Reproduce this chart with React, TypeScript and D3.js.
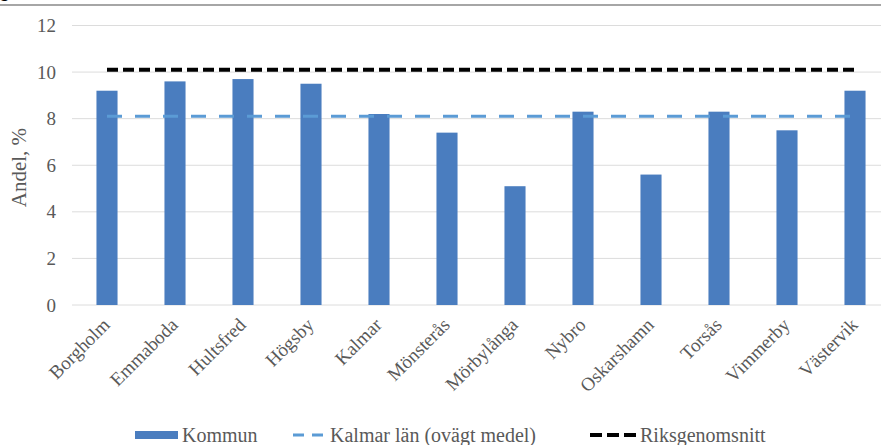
import React from "react";
import * as d3 from "d3";

const categories = ["Borgholm", "Emmaboda", "Hultsfred", "Högsby", "Kalmar", "Mönsterås", "Mörbylånga", "Nybro", "Oskarshamn", "Torsås", "Vimmerby", "Västervik"];
const kommun = [9.2, 9.6, 9.7, 9.5, 8.2, 7.4, 5.1, 8.3, 5.6, 8.3, 7.5, 9.2];
const kalmarLan = 8.1;
const riks = 10.1;
const yTicks = [0, 2, 4, 6, 8, 10, 12];
const legendLabels = ["Kommun", "Kalmar län (ovägt medel)", "Riksgenomsnitt"];
const yLabel = "Andel, %";

const W = 881, H = 445;
const FONT = "'Liberation Serif', 'Times New Roman', serif";
const TXT = "#595959";
const BAR = "#4a7dbf";
const BLUE = "#5b9bd5";

export default function App() {
  const x = d3.scaleBand<string>().domain(categories).range([73, 889]).paddingInner(0.69).paddingOuter(0.345);
  const y = d3.scaleLinear().domain([0, 12]).range([305, 25.5]);
  const cx = (c: string) => (x(c) as number) + x.bandwidth() / 2;
  const first = cx(categories[0]);
  const last = cx(categories[categories.length - 1]);
  const lineGen = d3.line<[number, number]>().x(d => d[0]).y(d => d[1]);

  return (
    <svg width={W} height={H} style={{ position: "absolute", left: 0, top: 0, background: "#fff" }} fontFamily={FONT}>
      {/* cut-off title fragments */}
      <text x={-1} y={-3} fontFamily="'Liberation Sans', Arial, sans-serif" fontWeight="bold" fontSize={18} fill="#000">g</text>
      <text x={749} y={-3} fontFamily="'Liberation Sans', Arial, sans-serif" fontWeight="bold" fontSize={18} fill="#000">,</text>
      <line x1={0} x2={W} y1={5} y2={5} stroke="#a6a6a6" strokeWidth={2} />

      {/* gridlines */}
      {yTicks.map(t => (
        <line key={t} x1={72} x2={W} y1={y(t)} y2={y(t)} stroke="#dcdcdc" strokeWidth={1} />
      ))}
      {yTicks.map(t => (
        <text key={"l" + t} x={56} y={y(t)} dy="0.35em" textAnchor="end" fontSize={19} fill={TXT}>{t}</text>
      ))}
      <text transform={`translate(26,${y(5.9)}) rotate(-90)`} textAnchor="middle" fontSize={21} fill={TXT}>{yLabel}</text>

      {/* bars */}
      {categories.map((c, i) => (
        <rect key={c} x={x(c)} y={y(kommun[i])} width={x.bandwidth()} height={y(0) - y(kommun[i])} fill={BAR} />
      ))}

      {/* lines */}
      <path d={lineGen([[first, y(kalmarLan)], [last, y(kalmarLan)]]) as string} stroke={BLUE} strokeWidth={3} strokeDasharray="15,13" fill="none" />
      <path d={lineGen([[first, y(riks)], [last, y(riks)]]) as string} stroke="#000" strokeWidth={4} strokeDasharray="11,5" fill="none" />

      {/* x labels */}
      {categories.map(c => (
        <text key={"x" + c} transform={`translate(${cx(c) + 4},${326}) rotate(-45)`} textAnchor="end" fontSize={19} fill={TXT}>{c}</text>
      ))}

      {/* legend */}
      <rect x={135} y={431} width={43} height={8} fill={BAR} />
      <text x={182} y={442} fontSize={20} fill={TXT}>{legendLabels[0]}</text>
      <line x1={293} x2={323} y1={435} y2={435} stroke={BLUE} strokeWidth={3} strokeDasharray="11,8" />
      <text x={330} y={442} fontSize={20} fill={TXT}>{legendLabels[1]}</text>
      <line x1={590} x2={636} y1={435} y2={435} stroke="#000" strokeWidth={4} strokeDasharray="12,5" />
      <text x={640} y={442} fontSize={20} fill={TXT}>{legendLabels[2]}</text>
    </svg>
  );
}
